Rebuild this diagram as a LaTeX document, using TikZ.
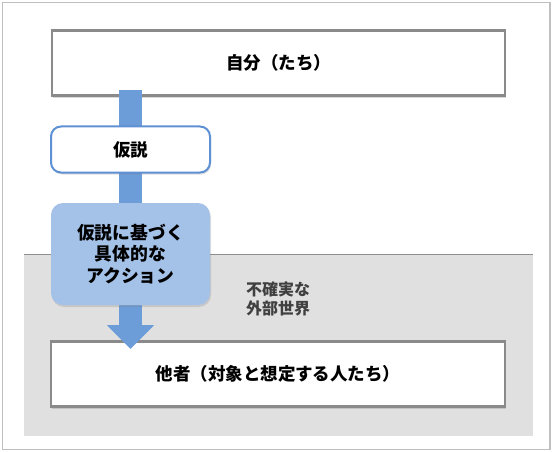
\documentclass[tikz,border=0pt]{standalone}
\usepackage{fontspec}
\setmainfont{Noto Sans CJK JP}
\usetikzlibrary{arrows.meta,shadows}
\definecolor{outerc}{HTML}{BFBFBF}
\definecolor{regionc}{HTML}{E0E0E0}
\definecolor{regionline}{HTML}{8E8E8E}
\definecolor{boxline}{HTML}{8A8A8A}
\definecolor{arrowblue}{HTML}{6C9DD9}
\definecolor{hypline}{HTML}{5E90D4}
\definecolor{actfill}{HTML}{A4C1E8}
\definecolor{txtgray}{HTML}{404040}
\tikzset{
  mainbox/.style={draw=boxline, line width=2.5pt, fill=white, minimum height=65pt,
    font=\fontsize{17.5}{20}\selectfont\bfseries,
    drop shadow={opacity=0.3, shadow xshift=1pt, shadow yshift=-2.5pt}},
  hypbox/.style={draw=hypline, line width=2pt, fill=white, rounded corners=10pt,
    minimum width=159pt, minimum height=46pt, font=\fontsize{17.5}{20}\selectfont\bfseries,
    drop shadow={opacity=0.25, shadow xshift=1pt, shadow yshift=-2pt}},
  actbox/.style={fill=actfill, rounded corners=12pt, minimum width=159pt, minimum height=102pt,
    align=center, font=\fontsize{17.8}{21.7}\selectfont\bfseries,
    drop shadow={opacity=0.25, shadow xshift=1pt, shadow yshift=-2pt}},
  flowarrow/.style={draw=arrowblue, line width=23pt, -{Triangle[width=46pt 0,length=24pt 0]}}
}
\begin{document}
\begin{tikzpicture}[x=1pt,y=-1pt]
\useasboundingbox (0,0) rectangle (555,452);
% outer frame
\draw[outerc, line width=1.5pt] (2.5,2.5) rectangle (550,449.5);
% uncertain outer world region
\fill[regionc] (24,254) rectangle (533,436);
\draw[regionline, line width=1pt] (24,254) -- (533,254);
\node[txtgray, align=center, font=\fontsize{16}{18.5}\selectfont\bfseries] (world) at (278,299) {不確実な\\外部世界};
% boxes
\node[mainbox, minimum width=453pt] (top) at (278.5,63) {自分（たち）};
\node[mainbox, minimum width=454pt] (bot) at (278,374) {他者（対象と想定する人たち）};
% arrow
\coordinate (a1) at ([xshift=-148pt, yshift=7pt]top.south);
\coordinate (a2) at (a1 |- 0,349);
\draw[flowarrow] (a1) -- (a2);
% hypothesis and action
\node[hypbox] (hyp) at (130.5,149.5) {仮説};
\node[actbox] (act) at (130.5,254) {仮説に基づく\\具体的な\\アクション};
\end{tikzpicture}
\end{document}
